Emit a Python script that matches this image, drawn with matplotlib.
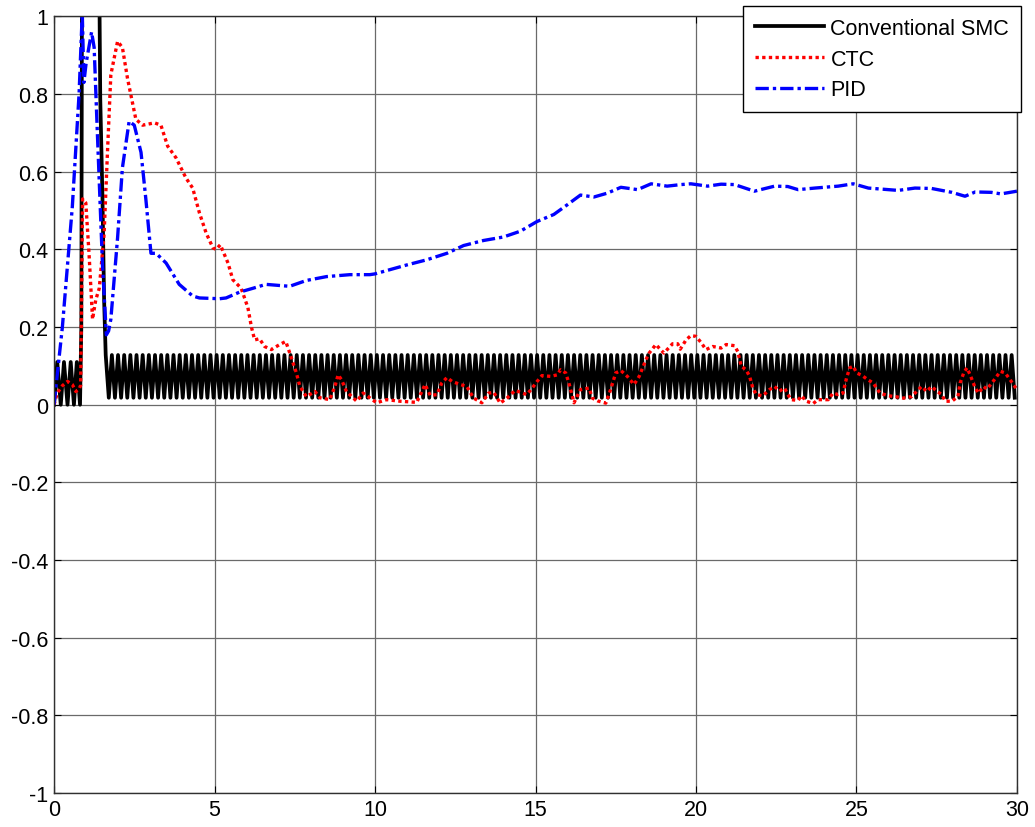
import numpy as np
import matplotlib.pyplot as plt

plt.rcParams['font.family'] = ['Liberation Sans', 'DejaVu Sans']

# Conventional SMC - first part read point by point
smc_t = [0, 0.10, 0.21, 0.31, 0.42, 0.52, 0.62, 0.71, 0.81, 0.85, 0.88, 1.0, 1.2, 1.40, 1.44, 1.51, 1.56, 1.61]
smc_y = [0, 0.11, 0, 0.11, 0, 0.11, 0, 0.11, 0, 0.2, 1.5, 1.6, 1.5, 1.2, 0.79, 0.53, 0.27, 0.128]
# chattering afterwards: one cycle low/high
chat_start = 1.61
chat_end = 30.0
chat_period = 0.192
chat_low = 0.018
chat_high = 0.128

ctc_t = [0, 0.1, 0.26, 0.42, 0.57, 0.68, 0.78, 0.83, 0.89, 0.99, 1.09, 1.2, 1.3, 1.41, 1.56,
         1.67, 1.77, 1.98, 2.13, 2.29, 2.55, 2.76, 3.13, 3.33, 3.54, 3.8, 4.11, 4.32, 4.53,
         4.74, 4.95, 5.05, 5.18, 5.42, 5.57, 5.83, 6.04, 6.15, 6.25, 6.4, 6.56, 6.77, 7.03,
         7.22, 7.34, 7.55, 7.66, 7.86, 8.13, 8.28, 8.59, 8.75, 8.85, 8.96, 9.11, 9.43, 9.63,
         10.05, 10.36, 10.78, 11.3, 11.56, 11.72, 11.93, 12.08, 12.24, 12.4, 12.66, 12.86,
         13.07, 13.33, 13.54, 13.7, 13.9, 14.11, 14.37, 14.73, 14.9, 15.05, 15.2, 15.47, 15.68,
         15.78, 15.94, 16.04, 16.15, 16.2, 16.4, 16.67, 16.77, 16.93, 17.19, 17.34, 17.5, 17.66,
         17.86, 18.07, 18.23, 18.44, 18.54, 18.75, 18.85, 19.0, 19.27, 19.43, 19.51, 19.69,
         19.84, 20.0, 20.16, 20.31, 20.52, 20.78, 20.94, 21.2, 21.3, 21.41, 21.56, 21.67, 21.77,
         21.88, 22.08, 22.29, 22.45, 22.6, 22.76, 22.86, 22.97, 23.18, 23.28, 23.44, 23.65,
         23.8, 24.12, 24.27, 24.43, 24.58, 24.69, 24.79, 24.9, 25.0, 25.16, 25.36, 25.52, 25.73,
         25.99, 26.2, 26.46, 26.72, 26.87, 27.03, 27.19, 27.34, 27.5, 27.66, 27.76, 27.97,
         28.16, 28.23, 28.34, 28.44, 28.54, 28.7, 28.8, 28.96, 29.06, 29.22, 29.37, 29.48,
         29.63, 29.79, 29.9, 30.0]
ctc_y = [0, 0.03, 0.049, 0.06, 0.052, 0.034, 0.04, 0.05, 0.53, 0.52, 0.39, 0.22, 0.27, 0.30, 0.44,
         0.66, 0.85, 0.936, 0.92, 0.84, 0.735, 0.72, 0.726, 0.72, 0.666, 0.636, 0.584, 0.558, 0.494,
         0.442, 0.404, 0.40, 0.412, 0.365, 0.322, 0.30, 0.25, 0.20, 0.167, 0.17, 0.15, 0.142, 0.155,
         0.163, 0.134, 0.082, 0.047, 0.021, 0.034, 0.018, 0.013, 0.047, 0.077, 0.064, 0.034, 0.009, 0.03,
         0.005, 0.013, 0.009, 0.006, 0.052, 0.024, 0.026, 0.056, 0.07, 0.06, 0.052, 0.047,
         0.017, 0.005, 0.03, 0.032, 0.004, 0.017, 0.037, 0.026, 0.043, 0.06, 0.075, 0.073, 0.077,
         0.09, 0.082, 0.056, 0.021, 0.005, 0.039, 0.043, 0.017, 0.01, 0.004, 0.039, 0.082, 0.088,
         0.073, 0.052, 0.073, 0.116, 0.133, 0.155, 0.146, 0.133, 0.157, 0.157, 0.143, 0.167,
         0.178, 0.176, 0.16, 0.142, 0.15, 0.146, 0.155, 0.152, 0.137, 0.099, 0.09, 0.073, 0.043,
         0.026, 0.023, 0.039, 0.047, 0.035, 0.043, 0.026, 0.013, 0.011, 0.023, 0.009, 0.003,
         0.013, 0.013, 0.03, 0.026, 0.03, 0.069, 0.095, 0.099, 0.082, 0.076, 0.064, 0.056, 0.03,
         0.023, 0.021, 0.017, 0.021, 0.034, 0.047, 0.034, 0.047, 0.035, 0.026, 0.009, 0.009,
         0.021, 0.056, 0.082, 0.095, 0.077, 0.043, 0.03, 0.047, 0.04, 0.056, 0.073, 0.086,
         0.082, 0.064, 0.05, 0.04]

pid_t = [0, 0.26, 0.57, 0.78, 0.88, 0.93, 1.0, 1.17, 1.25, 1.35, 1.51, 1.63, 1.7, 1.77, 1.98,
         2.13, 2.34, 2.5, 2.71, 2.86, 3.02, 3.18, 3.49, 3.9, 4.32, 4.53, 5.16, 5.36, 5.78, 6.2,
         6.6, 7.34, 7.86, 8.49, 9.22, 9.84, 10.0, 10.47, 10.99, 11.6, 12.24, 12.76, 13.38, 14.0,
         14.53, 15.05, 15.57, 15.99, 16.4, 16.82, 17.24, 17.66, 18.18, 18.6, 19.1, 19.53, 19.84,
         20.36, 20.78, 21.2, 21.82, 22.45, 22.86, 23.18, 23.7, 24.43, 24.9, 25.37, 25.99, 26.3,
         26.82, 27.34, 27.97, 28.38, 28.7, 29.2, 29.5, 30.0]
pid_y = [0, 0.2, 0.51, 0.80, 1.01, 0.83, 0.88, 0.96, 0.92, 0.70, 0.36, 0.18, 0.19, 0.22, 0.43,
         0.61, 0.73, 0.72, 0.65, 0.53, 0.39, 0.39, 0.365, 0.31, 0.28, 0.275, 0.273, 0.275, 0.29, 0.30,
         0.31, 0.305, 0.32, 0.33, 0.335, 0.335, 0.337, 0.348, 0.36, 0.373, 0.39, 0.41, 0.423, 0.432,
         0.447, 0.472, 0.49, 0.515, 0.54, 0.535, 0.545, 0.56, 0.554, 0.569, 0.563, 0.567, 0.569,
         0.563, 0.568, 0.567, 0.55, 0.563, 0.562, 0.554, 0.558, 0.563, 0.569, 0.558, 0.554, 0.552,
         0.558, 0.557, 0.547, 0.537, 0.548, 0.547, 0.543, 0.55]

labels = ['Conventional SMC', 'CTC', 'PID']

# build SMC chatter by repeating the observed cycle
n_half = int((chat_end - chat_start) / (chat_period / 2))
t_chat = chat_start + np.arange(1, n_half + 1) * chat_period / 2
y_chat = np.tile([chat_low, chat_high], n_half // 2 + 1)[:n_half]
smc_full_t = np.concatenate([smc_t, t_chat])
smc_full_y = np.concatenate([smc_y, y_chat])

fig = plt.figure(figsize=(10.35, 8.28), dpi=100)
ax = fig.add_axes([0.0522, 0.0411, 0.9304, 0.9378])

ax.plot(smc_full_t, smc_full_y, color='k', lw=2.7, solid_joinstyle='round', label=labels[0])
ax.plot(ctc_t, ctc_y, color='r', lw=2.4, linestyle=(0, (1, 1)), label=labels[1])
ax.plot(pid_t, pid_y, color='b', lw=2.4, linestyle=(0, (4, 1.2, 1, 1.2)), label=labels[2])

ax.set_xlim(0, 30)
ax.set_ylim(-1, 1)
ax.set_xticks(np.arange(0, 31, 5))
ax.set_yticks(np.arange(-1, 1.01, 0.2))
ax.set_yticklabels(['-1', '-0.8', '-0.6', '-0.4', '-0.2', '0', '0.2', '0.4', '0.6', '0.8', '1'])
ax.grid(True, color='#6a6a6a', lw=0.9)
ax.tick_params(direction='in', length=5, labelsize=15.5, top=True, right=True, pad=4)
for s in ax.spines.values():
    s.set_color('#303030')
    s.set_linewidth(1.0)

leg = ax.legend(loc='upper right', bbox_to_anchor=(1021 / 1035, 1 - 7 / 828),
                bbox_transform=fig.transFigure, borderaxespad=0, fontsize=15.5,
                fancybox=False, framealpha=1, edgecolor='k', handlelength=3.2,
                handletextpad=0.3, labelspacing=0.45, borderpad=0.55)
leg.get_frame().set_linewidth(1.0)

fig.savefig('out.png', dpi=100)
